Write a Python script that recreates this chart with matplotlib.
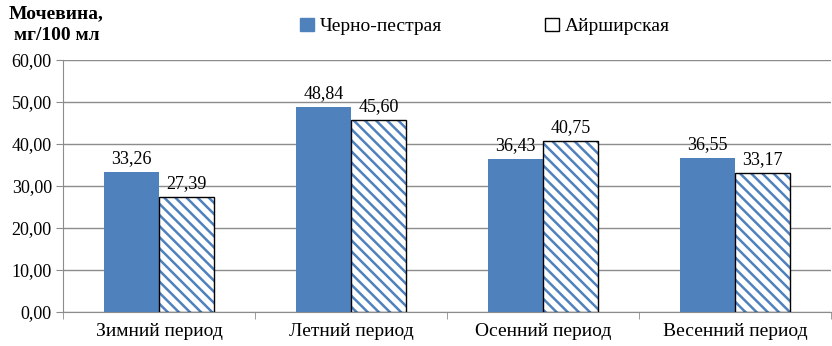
import numpy as np
import matplotlib.pyplot as plt
from matplotlib import font_manager
from matplotlib.patches import Patch

categories = ['Зимний период', 'Летний период', 'Осенний период', 'Весенний период']
black_pied = [33.26, 48.84, 36.43, 36.55]
ayrshire = [27.39, 45.60, 40.75, 33.17]
series_names = ['Черно-пестрая', 'Айрширская']
y_ticks = [0, 10, 20, 30, 40, 50, 60]

blue = '#4f81bd'
grid_gray = '#8c8c8c'

names = {f.name for f in font_manager.fontManager.ttflist}
serif = [n for n in ['Liberation Serif', 'Times New Roman', 'DejaVu Serif'] if n in names]
plt.rcParams['font.family'] = serif + ['DejaVu Sans']
plt.rcParams['hatch.linewidth'] = 1.8

fig = plt.figure(figsize=(8.32, 3.46), dpi=100)
ax = fig.add_axes([0.0757, 0.098, 0.923, 0.729])

x = np.arange(len(categories))
w = 0.286

ax.bar(x - w / 2, black_pied, width=w, color=blue, zorder=3)
# hatch drawn in blue, outline in black on top
ax.bar(x + w / 2, ayrshire, width=w, color='white', edgecolor=blue,
       hatch='\\\\\\', linewidth=0, zorder=3)
ax.bar(x + w / 2, ayrshire, width=w, fill=False, edgecolor='black',
       linewidth=1.0, zorder=4)

for xi, v in zip(x - w / 2, black_pied):
    ax.text(xi, v + 1.2, f'{v:.2f}'.replace('.', ','), ha='center', va='bottom', fontsize=13)
for xi, v in zip(x + w / 2, ayrshire):
    ax.text(xi, v + 1.2, f'{v:.2f}'.replace('.', ','), ha='center', va='bottom', fontsize=13)

ax.set_xlim(-0.5, len(categories) - 0.5)
ax.set_ylim(0, 60)
ax.set_yticks(y_ticks)
ax.set_yticklabels([f'{t:.2f}'.replace('.', ',') for t in y_ticks], fontsize=13)
ax.set_xticks(x)
ax.set_xticklabels(categories, fontsize=14)
ax.tick_params(axis='x', length=0, pad=8)
ax.set_xticks(np.arange(-0.5, len(categories), 1), minor=True)
ax.tick_params(axis='x', which='minor', length=5, color=grid_gray)
ax.tick_params(axis='y', length=5, color=grid_gray, pad=3)

ax.yaxis.grid(True, color=grid_gray, linewidth=1.0, zorder=0)
ax.set_axisbelow(True)
for s in ['top', 'right']:
    ax.spines[s].set_visible(False)
ax.spines['left'].set_color(grid_gray)
ax.spines['bottom'].set_color(grid_gray)

fig.text(0.068, 0.985, 'Мочевина,\nмг/100 мл', ha='center', va='top',
         fontsize=14, fontweight='bold', linespacing=1.35)

h1 = Patch(facecolor=blue, edgecolor=blue)
h2 = Patch(facecolor='white', edgecolor='black', linewidth=1.0)
fig.legend([h1, h2], series_names, loc='upper left', bbox_to_anchor=(0.34, 1.0),
           ncol=2, frameon=False, fontsize=14, handlelength=0.7, handleheight=0.7,
           handletextpad=0.3, columnspacing=5.3)

fig.savefig('out.png', dpi=100)
